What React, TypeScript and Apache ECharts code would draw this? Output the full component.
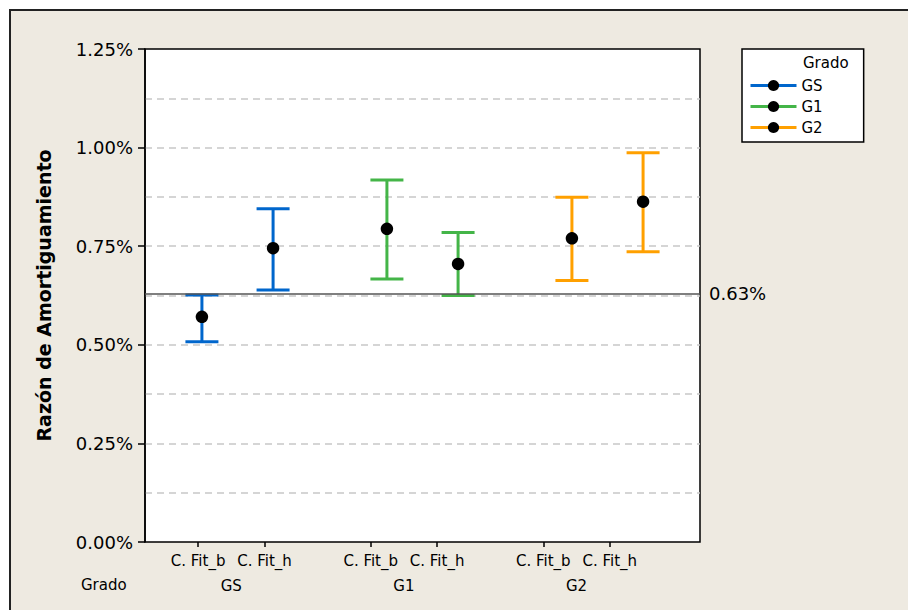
import React, { useEffect, useRef } from "react";
import * as echarts from "echarts";

// ---- data ----
const groups = ["GS", "G1", "G2"];
const fits = ["C. Fit_b", "C. Fit_h"];
const gsMean = [0.571, 0.745];
const gsLow = [0.508, 0.639];
const gsHigh = [0.626, 0.845];
const g1Mean = [0.794, 0.705];
const g1Low = [0.667, 0.625];
const g1High = [0.918, 0.785];
const g2Mean = [0.77, 0.863];
const g2Low = [0.663, 0.736];
const g2High = [0.874, 0.987];
const refValue = 0.63;
const yMin = 0;
const yMax = 1.25;
const yInterval = 0.25;

const groupColors = ["#0066CC", "#44B548", "#FFA000"];
const FONT = "DejaVu Sans";
const BEIGE = "#EEEAE1";

// layout slots along the x axis
const slot = (g: number, f: number) => 0.8 + g * 2.6 + f;
const X_MAX = 7.8;
const LABEL_X_MAX = 8.36;

export default function App() {
  const ref = useRef<HTMLDivElement>(null);
  useEffect(() => {
    if (!ref.current) return;
    const chart = echarts.init(ref.current, undefined, { renderer: "svg" });
    const means = [gsMean, g1Mean, g2Mean];
    const lows = [gsLow, g1Low, g2Low];
    const highs = [gsHigh, g1High, g2High];

    const tickVals: number[] = [];
    const tickNames: string[] = [];
    groups.forEach((_, g) =>
      fits.forEach((fn, f) => {
        tickVals.push(slot(g, f));
        tickNames.push(fn);
      })
    );
    const groupCenters = groups.map((_, g) => (slot(g, 0) + slot(g, 1)) / 2);

    const series: any[] = [];
    groups.forEach((name, g) => {
      const color = groupColors[g];
      series.push({
        type: "custom",
        name: name + "_ci",
        xAxisIndex: 0,
        yAxisIndex: 0,
        z: 3,
        encode: { x: 0, y: [1, 2] },
        data: fits.map((_, f) => [slot(g, f), lows[g][f], highs[g][f]]),
        renderItem: (params: any, api: any) => {
          const x = api.value(0);
          const lo = api.coord([x, api.value(1)]);
          const hi = api.coord([x, api.value(2)]);
          const hw = 16.5;
          const st = { stroke: color, lineWidth: 3 };
          return {
            type: "group",
            children: [
              { type: "line", shape: { x1: lo[0], y1: lo[1], x2: hi[0], y2: hi[1] }, style: st },
              { type: "line", shape: { x1: lo[0] - hw, y1: lo[1], x2: lo[0] + hw, y2: lo[1] }, style: st },
              { type: "line", shape: { x1: hi[0] - hw, y1: hi[1], x2: hi[0] + hw, y2: hi[1] }, style: st },
            ],
          };
        },
      });
      const s: any = {
        type: "line",
        name,
        xAxisIndex: 0,
        yAxisIndex: 0,
        z: 5,
        symbol: "circle",
        symbolSize: 12.5,
        itemStyle: { color: "#000" },
        lineStyle: { color, width: 3, opacity: 0 },
        data: fits.map((_, f) => [slot(g, f), means[g][f]]),
      };
      if (g === 0) {
        s.markLine = {
          silent: true,
          symbol: "none",
          lineStyle: { color: "#555", width: 1.5, type: "solid" },
          label: {
            position: "end",
            formatter: refValue.toFixed(2) + "%",
            fontFamily: FONT,
            fontSize: 18,
            color: "#000",
            distance: 9,
          },
          data: [{ yAxis: refValue }],
        };
      }
      series.push(s);
    });

    chart.setOption({
      animation: false,
      textStyle: { fontFamily: FONT },
      graphic: [
        {
          type: "rect",
          z: -100,
          shape: { x: 10, y: 10, width: 1000, height: 1000 },
          style: { fill: BEIGE, stroke: "#222", lineWidth: 2 },
        },
        {
          type: "text",
          left: 803,
          top: 55,
          z: 100,
          style: { text: "Grado", fontFamily: FONT, fontSize: 15, fill: "#000" },
        },
        {
          type: "text",
          left: 81,
          top: 577,
          style: { text: "Grado", fontFamily: FONT, fontSize: 15, fill: "#000" },
        },
      ],
      legend: {
        orient: "vertical",
        left: 742,
        top: 49,
        padding: [29, 41, 7, 7],
        itemWidth: 46,
        itemHeight: 14,
        itemGap: 6,
        backgroundColor: "#fff",
        borderColor: "#000",
        borderWidth: 1.5,
        borderRadius: 0,
        selectedMode: false,
        textStyle: { fontFamily: FONT, fontSize: 15, color: "#000" },
        data: groups.map((name, g) => ({
          name,
          itemStyle: { color: "#000" },
          lineStyle: { color: groupColors[g], width: 3, opacity: 1 },
        })),
      },
      grid: {
        left: 145,
        right: 208,
        top: 49,
        bottom: 68,
        show: true,
        backgroundColor: "#fff",
        borderColor: "#000",
        borderWidth: 1.5,
      },
      xAxis: [
        { type: "value", min: 0, max: X_MAX, show: false },
        {
          type: "value",
          min: 0,
          max: LABEL_X_MAX,
          position: "bottom",
          axisLine: { show: false },
          splitLine: { show: false },
          axisTick: {
            show: true,
            customValues: tickVals,
            length: 5,
            lineStyle: { color: "#000", width: 1.5 },
          },
          axisLabel: {
            customValues: tickVals,
            margin: 11,
            fontFamily: FONT,
            fontSize: 15,
            color: "#000",
            formatter: (v: number) => {
              const i = tickVals.findIndex((t) => Math.abs(t - v) < 1e-6);
              return i >= 0 ? tickNames[i] : "";
            },
          },
        },
        {
          type: "value",
          min: 0,
          max: LABEL_X_MAX,
          position: "bottom",
          axisLine: { show: false },
          splitLine: { show: false },
          axisTick: { show: false },
          axisLabel: {
            customValues: groupCenters,
            margin: 36,
            fontFamily: FONT,
            fontSize: 15,
            color: "#000",
            formatter: (v: number) => {
              const i = groupCenters.findIndex((t) => Math.abs(t - v) < 1e-6);
              return i >= 0 ? groups[i] : "";
            },
          },
        },
      ],
      yAxis: {
        type: "value",
        min: yMin,
        max: yMax,
        interval: yInterval,
        name: "Razón de Amortiguamiento",
        nameLocation: "middle",
        nameRotate: 90,
        nameGap: 92,
        nameTextStyle: { fontFamily: FONT, fontSize: 19, fontWeight: "bold", color: "#000" },
        axisLine: { show: true, lineStyle: { color: "#000", width: 1.5 } },
        axisTick: { show: true, inside: false, length: 7, lineStyle: { color: "#000", width: 1.5 } },
        axisLabel: {
          margin: 12,
          fontFamily: FONT,
          fontSize: 18,
          color: "#000",
          formatter: (v: number) => v.toFixed(2) + "%",
        },
        splitLine: {
          show: true,
          showMinLine: false,
          showMaxLine: false,
          lineStyle: { color: "#C8C8C8", width: 1.5, type: [7, 5] },
        },
        minorTick: { show: false, splitNumber: 2 },
        minorSplitLine: {
          show: true,
          lineStyle: { color: "#C8C8C8", width: 1.5, type: [7, 5] },
        },
      },
      series,
    });
    return () => chart.dispose();
  }, []);
  return (
    <div
      ref={ref}
      style={{ position: "fixed", left: 0, top: 0, width: 908, height: 610, background: "#fff" }}
    />
  );
}
